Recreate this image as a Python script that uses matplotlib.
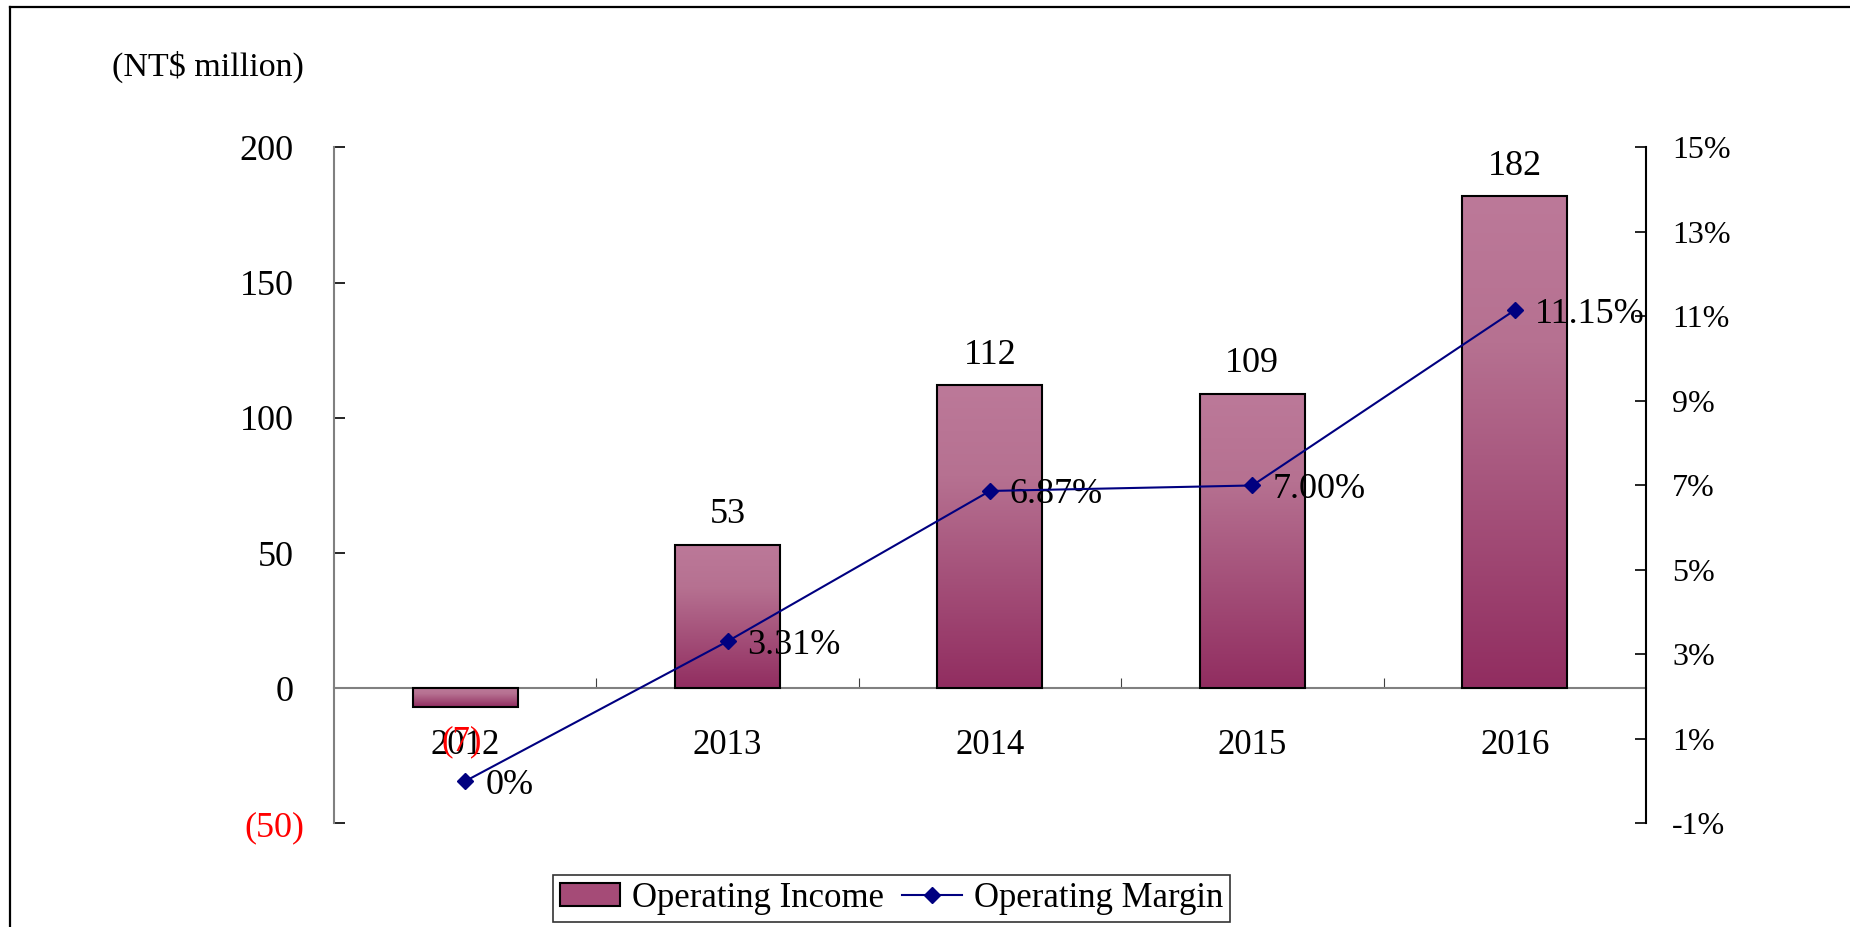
import numpy as np
import matplotlib
matplotlib.use("Agg")
import matplotlib.pyplot as plt
from matplotlib.colors import LinearSegmentedColormap
from matplotlib.lines import Line2D
from matplotlib.patches import Patch
from matplotlib.transforms import ScaledTranslation

plt.rcParams['font.family'] = ['Liberation Serif', 'DejaVu Serif']

years = ['2012', '2013', '2014', '2015', '2016']
income = [-7, 53, 112, 109, 182]
income_labels = ['(7)', '53', '112', '109', '182']
margin = [0.0, 3.31, 6.87, 7.00, 11.15]
margin_labels = ['0%', '3.31%', '6.87%', '7.00%', '11.15%']
left_ticks = [-50, 0, 50, 100, 150, 200]
left_tick_labels = ['(50)', '0', '50', '100', '150', '200']
right_ticks = [-1, 1, 3, 5, 7, 9, 11, 13, 15]

fig = plt.figure(figsize=(18.5, 9.27), dpi=100)
ax = fig.add_axes([0.1805, 0.1117, 0.7092, 0.7292])

x = np.arange(len(years))
bars = ax.bar(x, income, width=0.4, facecolor='none', edgecolor='black',
              linewidth=1.5, zorder=3)

# gradient fill inside each bar
cmap = LinearSegmentedColormap.from_list(
    'oi', [(0, '#bc7999'), (0.3, '#b67191'), (1, '#912d60')])
grad = np.linspace(0, 1, 256).reshape(-1, 1)
for rect in bars:
    x0, y0 = rect.get_x(), rect.get_y()
    w, h = rect.get_width(), rect.get_height()
    im = ax.imshow(grad, cmap=cmap, aspect='auto', origin='upper',
                   extent=(x0, x0 + w, min(y0, y0 + h), max(y0, y0 + h)),
                   zorder=2)
    im.set_clip_path(rect)

for xi, v, lab in zip(x, income, income_labels):
    if v < 0:
        ax.annotate(lab, (xi, v), xytext=(-3, -35), textcoords='offset pixels',
                    ha='center', va='center', fontsize=25, color='red')
    else:
        ax.annotate(lab, (xi, v), xytext=(0, 30), textcoords='offset pixels',
                    ha='center', va='center', fontsize=26)

ax.set_xlim(-0.5, 4.5)
ax.set_ylim(-50, 200)
ax.set_yticks(left_ticks)
ax.set_yticklabels(left_tick_labels)
ax.tick_params(axis='y', direction='in', length=8, width=1.2, pad=29,
               labelsize=26)
# negative label: red, closing bracket hangs past the digits
neg = ax.get_yticklabels()[0]
neg.set_color('red')
neg.set_transform(neg.get_transform()
                  + ScaledTranslation(0.11, 0, fig.dpi_scale_trans))

ax.set_xticks([0.5, 1.5, 2.5, 3.5])
ax.set_xticklabels([])
ax.set_xticks(x, minor=True)
ax.set_xticklabels(years, minor=True)
ax.tick_params(axis='x', which='major', direction='in', length=7,
               color='#404040')
ax.tick_params(axis='x', which='minor', length=0, pad=29, labelsize=25)

ax.spines['top'].set_visible(False)
ax.spines['right'].set_visible(False)
ax.spines['bottom'].set_position(('data', 0))
ax.spines['bottom'].set_color('#808080')
ax.spines['bottom'].set_linewidth(1.5)
ax.spines['left'].set_color('#808080')
ax.spines['left'].set_linewidth(1.5)

ax2 = ax.twinx()
ax2.plot(x, margin, color='#000080', linewidth=1.5, marker='D',
         markersize=8, zorder=4)
for xi, v, lab in zip(x, margin, margin_labels):
    ax2.annotate(lab, (xi, v), xytext=(20, -4), textcoords='offset pixels',
                 ha='left', va='center', fontsize=26)
ax2.set_ylim(-1, 15)
ax2.set_yticks(right_ticks)
ax2.set_yticklabels([f'{t}%' for t in right_ticks])
ax2.tick_params(axis='y', direction='in', length=8, width=1.2, pad=19,
                labelsize=23)
for s in ['top', 'left', 'bottom']:
    ax2.spines[s].set_visible(False)
ax2.spines['right'].set_linewidth(1.5)

fig.text(0.0605, 0.928, '(NT$ million)', fontsize=24.5, ha='left', va='center')

handles = [Patch(facecolor='#a54b77', edgecolor='black', linewidth=1.5),
           Line2D([], [], color='#000080', linewidth=1.5, marker='D',
                  markersize=8)]
leg = fig.legend(handles, ['Operating Income', 'Operating Margin'],
                 loc='center', bbox_to_anchor=(0.482, 0.031),
                 bbox_transform=fig.transFigure, ncol=2, fontsize=25,
                 frameon=True, fancybox=False, edgecolor='black',
                 handlelength=1.73, handleheight=0.66, handletextpad=0.35,
                 columnspacing=0.5, borderpad=0.2, borderaxespad=0)
leg.get_frame().set_linewidth(1.2)

# outer frame (left and top edges visible)
fig.add_artist(Line2D([0.0054, 0.0054], [0, 0.9924], color='black',
                      linewidth=1.6, transform=fig.transFigure))
fig.add_artist(Line2D([0.0054, 1], [0.9924, 0.9924], color='black',
                      linewidth=1.6, transform=fig.transFigure))

fig.savefig('out.png', dpi=100)
